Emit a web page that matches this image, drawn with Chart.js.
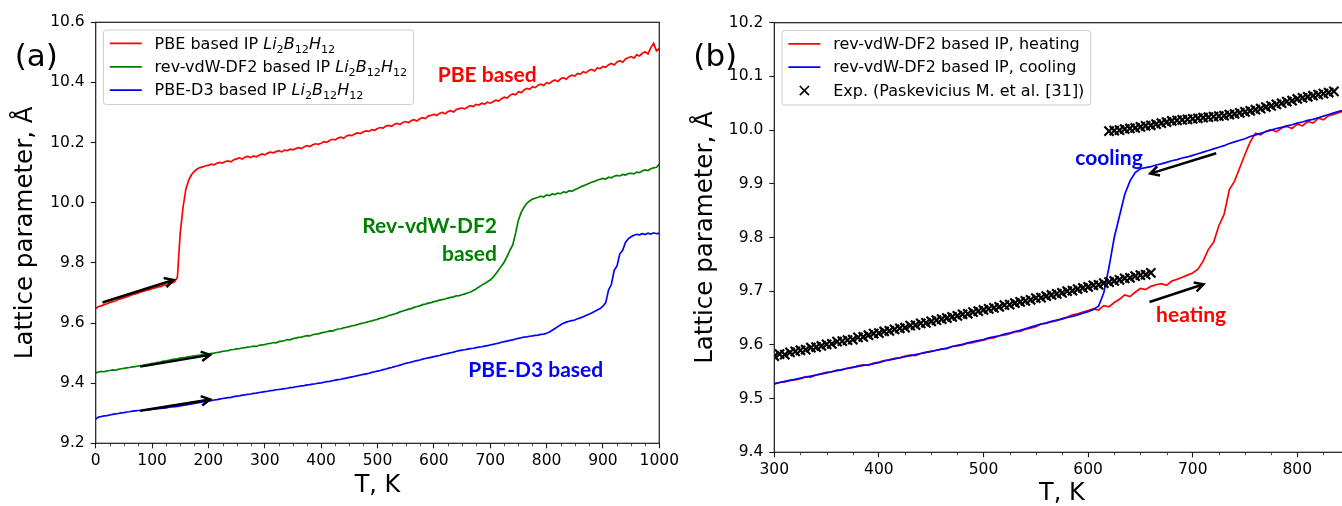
<!DOCTYPE html>
<html>
<head>
<meta charset="utf-8">
<title>Lattice parameter vs temperature</title>
<script src="https://cdn.jsdelivr.net/npm/chart.js@4.4.1/dist/chart.umd.min.js"></script>
<style>
  html, body { margin: 0; padding: 0; background: #fff; }
  #wrap { position: relative; width: 1342px; height: 506px; overflow: hidden; background: #fff; }
  #chartA { position: absolute; left: 0; top: 0; }
  #chartB { position: absolute; left: 680px; top: 0; }
</style>
</head>
<body>
<div id="wrap">
  <canvas id="chartA" width="682" height="506"></canvas>
  <canvas id="chartB" width="700" height="506"></canvas>
</div>
<script>
// ---- (a) heating runs for the three potentials, T in K, lattice parameter in Å
const tempA = [
  0,5,10,15,20,25,30,35,40,45,50,55,60,65,70,75,80,85,90,95,
  100,105,110,115,120,125,130,135,140,145,150,155,160,165,170,175,180,185,190,195,
  200,205,210,215,220,225,230,235,240,245,250,255,260,265,270,275,280,285,290,295,
  300,305,310,315,320,325,330,335,340,345,350,355,360,365,370,375,380,385,390,395,
  400,405,410,415,420,425,430,435,440,445,450,455,460,465,470,475,480,485,490,495,
  500,505,510,515,520,525,530,535,540,545,550,555,560,565,570,575,580,585,590,595,
  600,605,610,615,620,625,630,635,640,645,650,655,660,665,670,675,680,685,690,695,
  700,705,710,715,720,725,730,735,740,745,750,755,760,765,770,775,780,785,790,795,
  800,805,810,815,820,825,830,835,840,845,850,855,860,865,870,875,880,885,890,895,
  900,905,910,915,920,925,930,935,940,945,950,955,960,965,970,975,980,985,990,995,
  1000
];
const latticePBE = [
  9.648,9.655,9.657,9.661,9.664,9.668,9.671,9.673,9.678,9.681,9.684,9.687,9.691,9.694,9.697,9.699,9.703,9.706,9.709,9.711,
  9.714,9.717,9.720,9.721,9.725,9.727,9.731,9.733,9.737,9.752,9.900,9.985,10.045,10.075,10.093,10.104,10.112,10.117,10.119,10.123,
  10.124,10.128,10.126,10.131,10.134,10.132,10.137,10.139,10.136,10.143,10.146,10.149,10.145,10.152,10.154,10.150,10.156,10.153,10.158,10.162,
  10.159,10.165,10.168,10.166,10.170,10.173,10.169,10.175,10.173,10.178,10.176,10.180,10.183,10.180,10.186,10.190,10.187,10.193,10.196,10.194,
  10.198,10.203,10.201,10.207,10.211,10.209,10.215,10.218,10.214,10.222,10.225,10.223,10.229,10.232,10.230,10.236,10.239,10.237,10.243,10.241,
  10.247,10.250,10.248,10.255,10.257,10.254,10.261,10.264,10.260,10.267,10.270,10.266,10.273,10.276,10.272,10.279,10.283,10.280,10.288,10.291,
  10.294,10.290,10.297,10.300,10.296,10.303,10.306,10.302,10.310,10.313,10.315,10.312,10.318,10.323,10.320,10.327,10.325,10.331,10.328,10.334,
  10.331,10.336,10.341,10.338,10.346,10.351,10.348,10.357,10.362,10.359,10.369,10.366,10.375,10.380,10.377,10.386,10.383,10.391,10.394,10.390,
  10.399,10.396,10.404,10.408,10.403,10.412,10.416,10.411,10.420,10.424,10.421,10.430,10.428,10.436,10.432,10.440,10.443,10.438,10.448,10.446,
  10.453,10.450,10.459,10.463,10.458,10.468,10.472,10.467,10.478,10.482,10.486,10.481,10.492,10.488,10.497,10.502,10.495,10.516,10.530,10.505,
  10.512
];
const latticeRevVdW = [
  9.434,9.437,9.439,9.438,9.441,9.442,9.444,9.443,9.446,9.448,9.449,9.451,9.452,9.454,9.455,9.457,9.458,9.460,9.462,9.463,
  9.466,9.467,9.469,9.470,9.473,9.474,9.476,9.478,9.480,9.481,9.483,9.485,9.486,9.488,9.489,9.491,9.492,9.493,9.495,9.494,
  9.497,9.499,9.500,9.502,9.503,9.506,9.507,9.508,9.511,9.512,9.514,9.515,9.517,9.518,9.520,9.521,9.523,9.522,9.526,9.527,
  9.528,9.531,9.532,9.535,9.534,9.538,9.540,9.541,9.545,9.544,9.548,9.550,9.552,9.553,9.556,9.558,9.557,9.561,9.563,9.564,
  9.567,9.569,9.571,9.574,9.573,9.577,9.580,9.581,9.584,9.586,9.588,9.591,9.592,9.595,9.598,9.600,9.602,9.605,9.607,9.610,
  9.612,9.616,9.618,9.621,9.625,9.627,9.630,9.633,9.637,9.640,9.643,9.646,9.648,9.652,9.655,9.657,9.661,9.663,9.666,9.668,
  9.671,9.673,9.676,9.678,9.680,9.683,9.685,9.687,9.690,9.691,9.694,9.697,9.700,9.703,9.708,9.713,9.720,9.726,9.731,9.737,
  9.743,9.752,9.764,9.776,9.790,9.803,9.822,9.842,9.860,9.898,9.942,9.968,9.985,9.998,10.006,10.012,10.015,10.018,10.022,10.019,
  10.026,10.024,10.029,10.027,10.032,10.030,10.036,10.034,10.040,10.038,10.043,10.047,10.052,10.056,10.060,10.064,10.068,10.071,10.075,10.078,
  10.081,10.079,10.085,10.083,10.088,10.091,10.089,10.094,10.092,10.097,10.098,10.096,10.102,10.100,10.106,10.109,10.107,10.113,10.116,10.118,
  10.128
];
const latticePBED3 = [
  9.281,9.287,9.289,9.291,9.292,9.294,9.296,9.298,9.299,9.301,9.302,9.304,9.305,9.307,9.308,9.309,9.309,9.310,9.311,9.312,
  9.313,9.314,9.315,9.316,9.317,9.318,9.320,9.321,9.322,9.323,9.324,9.326,9.328,9.329,9.331,9.333,9.334,9.336,9.338,9.339,
  9.341,9.342,9.344,9.345,9.347,9.349,9.350,9.352,9.353,9.355,9.357,9.358,9.360,9.361,9.363,9.364,9.366,9.367,9.369,9.370,
  9.372,9.373,9.375,9.376,9.378,9.379,9.380,9.382,9.383,9.385,9.386,9.388,9.389,9.391,9.392,9.394,9.395,9.397,9.398,9.400,
  9.401,9.403,9.405,9.406,9.408,9.410,9.412,9.413,9.415,9.417,9.419,9.421,9.423,9.425,9.427,9.429,9.431,9.433,9.436,9.438,
  9.440,9.442,9.445,9.447,9.450,9.452,9.455,9.457,9.460,9.463,9.466,9.468,9.470,9.473,9.475,9.477,9.480,9.482,9.484,9.486,
  9.488,9.490,9.492,9.495,9.497,9.499,9.501,9.503,9.506,9.508,9.510,9.511,9.513,9.515,9.516,9.518,9.520,9.521,9.523,9.525,
  9.527,9.529,9.531,9.533,9.536,9.538,9.540,9.542,9.544,9.547,9.549,9.551,9.553,9.554,9.556,9.557,9.559,9.560,9.562,9.563,
  9.566,9.570,9.576,9.582,9.588,9.594,9.599,9.603,9.606,9.608,9.610,9.614,9.617,9.621,9.625,9.629,9.633,9.638,9.643,9.648,
  9.656,9.668,9.710,9.728,9.775,9.790,9.830,9.842,9.868,9.880,9.887,9.892,9.895,9.893,9.897,9.894,9.899,9.896,9.900,9.897,
  9.898
];

// ---- (b) rev-vdW-DF2 heating / cooling and experiment
const tempB = [
  300,305,310,315,320,325,330,335,340,345,350,355,360,365,370,375,380,385,390,395,
  400,405,410,415,420,425,430,435,440,445,450,455,460,465,470,475,480,485,490,495,
  500,505,510,515,520,525,530,535,540,545,550,555,560,565,570,575,580,585,590,595,
  600,605,610,615,620,625,630,635,640,645,650,655,660,665,670,675,680,685,690,695,
  700,705,710,715,720,725,730,735,740,745,750,755,760,765,770,775,780,785,790,795,
  800,805,810,815,820,825,830,835,840,845,850
];
const latticeHeating = [
  9.527,9.530,9.531,9.534,9.535,9.537,9.541,9.540,9.544,9.546,9.549,9.550,9.553,9.554,9.557,9.558,9.561,9.563,9.562,9.566,
  9.568,9.571,9.572,9.575,9.576,9.579,9.581,9.580,9.584,9.586,9.588,9.590,9.592,9.593,9.597,9.598,9.600,9.603,9.604,9.607,
  9.609,9.612,9.613,9.617,9.618,9.621,9.624,9.625,9.629,9.631,9.634,9.639,9.640,9.643,9.645,9.649,9.652,9.656,9.658,9.661,
  9.664,9.667,9.665,9.673,9.671,9.679,9.685,9.693,9.690,9.698,9.705,9.703,9.709,9.712,9.714,9.711,9.719,9.722,9.726,9.730,
  9.734,9.741,9.756,9.778,9.791,9.822,9.843,9.889,9.905,9.930,9.955,9.978,9.994,9.991,9.998,10.001,9.997,10.004,10.007,10.003,
  10.011,10.008,10.016,10.013,10.022,10.019,10.027,10.029,10.033,10.036,10.039
];
const latticeCooling = [
  9.528,9.530,9.532,9.534,9.536,9.538,9.540,9.542,9.544,9.546,9.548,9.550,9.552,9.554,9.556,9.558,9.560,9.562,9.563,9.565,
  9.567,9.570,9.572,9.574,9.576,9.578,9.580,9.582,9.584,9.586,9.588,9.590,9.592,9.594,9.597,9.599,9.601,9.604,9.606,9.608,
  9.610,9.613,9.615,9.617,9.620,9.622,9.625,9.627,9.630,9.633,9.636,9.639,9.641,9.644,9.646,9.648,9.651,9.653,9.656,9.659,
  9.662,9.666,9.672,9.697,9.745,9.800,9.840,9.880,9.905,9.921,9.928,9.930,9.932,9.935,9.937,9.940,9.943,9.945,9.948,9.950,
  9.953,9.956,9.959,9.962,9.965,9.968,9.971,9.975,9.978,9.981,9.984,9.988,9.991,9.994,9.997,10.000,10.003,10.005,10.008,10.010,
  10.013,10.015,10.018,10.020,10.023,10.026,10.029,10.032,10.035,10.037,10.040
];
const tempExpLow = [
  300,305,310,315,320,325,330,335,340,345,350,355,360,365,370,375,380,385,390,395,
  400,405,410,415,420,425,430,435,440,445,450,455,460,465,470,475,480,485,490,495,
  500,505,510,515,520,525,530,535,540,545,550,555,560,565,570,575,580,585,590,595,
  600,605,610,615,620,625,630,635,640,645,650,655,660
];
const latticeExpLow = [
  9.579,9.583,9.582,9.586,9.588,9.590,9.591,9.595,9.596,9.598,9.601,9.602,9.606,9.607,9.609,9.610,9.614,9.615,9.618,9.621,
  9.622,9.625,9.626,9.629,9.631,9.632,9.636,9.637,9.640,9.641,9.644,9.646,9.648,9.650,9.652,9.654,9.657,9.658,9.661,9.663,
  9.665,9.667,9.669,9.671,9.674,9.675,9.678,9.680,9.682,9.684,9.687,9.688,9.691,9.693,9.695,9.697,9.700,9.701,9.704,9.706,
  9.708,9.711,9.712,9.715,9.717,9.719,9.721,9.724,9.725,9.728,9.730,9.731,9.734
];
const tempExpHigh = [
  620,625,630,635,640,645,650,655,660,665,670,675,680,685,690,695,700,705,710,715,
  720,725,730,735,740,745,750,755,760,765,770,775,780,785,790,795,800,805,810,815,
  820,825,830,835
];
const latticeExpHigh = [
  9.998,9.999,10.000,10.002,10.003,10.004,10.006,10.008,10.009,10.011,10.013,10.015,10.017,10.018,10.019,10.020,10.021,10.022,10.023,10.024,
  10.025,10.026,10.027,10.029,10.030,10.032,10.034,10.036,10.038,10.040,10.043,10.045,10.048,10.050,10.053,10.055,10.058,10.060,10.062,10.064,
  10.066,10.068,10.070,10.072
];

const RED = '#ff0000', GREEN = '#008000', BLUE = '#0000ff', INK = '#1a1a1a';
const TICK_FONT = 15.5;
const LEGEND_FONT = 16;

Chart.defaults.font.family = "'DejaVu Sans', sans-serif";
Chart.defaults.color = '#000';

const pairs = (xs, ys) => xs.map((x, i) => ({ x, y: ys[i] }));

// box around the axes plus short minor ticks on x, matplotlib style
const frame = {
  id: 'frame',
  afterDraw(chart, args, opts) {
    const { ctx, chartArea: a } = chart;
    const xs = chart.scales.x;
    ctx.save();
    ctx.strokeStyle = INK;
    ctx.lineWidth = 0.8;
    for (let v = xs.min; v <= xs.max; v += opts.minor) {
      if ((v - xs.min) % opts.major === 0) continue;
      const px = Math.round(xs.getPixelForValue(v)) + 0.5;
      ctx.beginPath();
      ctx.moveTo(px, a.bottom);
      ctx.lineTo(px, a.bottom + 3);
      ctx.stroke();
    }
    ctx.lineWidth = 1.2;
    ctx.strokeRect(a.left, a.top, a.right - a.left, a.bottom - a.top);
    ctx.font = `${opts.tagSize}px 'DejaVu Sans'`;
    ctx.fillStyle = '#000';
    ctx.textBaseline = 'alphabetic';
    ctx.fillText(opts.tag, a.left - opts.tagDx, opts.tagY);
    ctx.restore();
  }
};

// split "text $Li_2B_{12}H_{12}$" into plain / italic / subscript runs
function richRuns(label) {
  const runs = [];
  label.split('$').forEach((part, i) => {
    if (i % 2 === 0) { if (part) runs.push({ text: part, kind: 'plain' }); return; }
    const re = /_\{([^}]*)\}|_(.)|([^_]+)/g;
    let m;
    while ((m = re.exec(part))) {
      if (m[1] !== undefined) runs.push({ text: m[1], kind: 'sub' });
      else if (m[2] !== undefined) runs.push({ text: m[2], kind: 'sub' });
      else runs.push({ text: m[3], kind: 'math' });
    }
  });
  return runs;
}

function runFont(kind, fs) {
  if (kind === 'math') return `italic ${fs}px 'DejaVu Sans'`;
  if (kind === 'sub') return `${(fs * 0.7).toFixed(2)}px 'DejaVu Sans'`;
  return `${fs}px 'DejaVu Sans'`;
}

function drawRich(ctx, label, x, y, fs) {
  let cx = x;
  for (const r of richRuns(label)) {
    ctx.font = runFont(r.kind, fs);
    ctx.fillText(r.text, cx, r.kind === 'sub' ? y + fs * 0.24 : y);
    cx += ctx.measureText(r.text).width;
  }
  return cx - x;
}

function richWidth(ctx, label, fs) {
  let w = 0;
  for (const r of richRuns(label)) {
    ctx.font = runFont(r.kind, fs);
    w += ctx.measureText(r.text).width;
  }
  return w;
}

// upper-left framed legend drawn from the datasets
const boxLegend = {
  id: 'boxLegend',
  afterDraw(chart) {
    const { ctx, chartArea: a } = chart;
    const fs = LEGEND_FONT;
    const sets = chart.data.datasets;
    const x0 = a.left + 7.7, y0 = a.top + 7.7;
    const pad = 0.4 * fs, handle = 2 * fs, gap = 0.8 * fs, step = 23.4;
    ctx.save();
    const maxW = Math.max(...sets.map(d => richWidth(ctx, d.label, fs)));
    const w = pad + handle + gap + maxW + pad;
    const h = 13.4 + (sets.length - 1) * step + 14.4;
    ctx.beginPath();
    ctx.roundRect(x0, y0, w, h, 3);
    ctx.fillStyle = 'rgba(255,255,255,0.8)';
    ctx.fill();
    ctx.strokeStyle = '#cccccc';
    ctx.lineWidth = 1;
    ctx.stroke();
    sets.forEach((d, i) => {
      const y = y0 + 13.4 + i * step;
      const hx = x0 + pad;
      ctx.strokeStyle = d.borderColor;
      if (d.showLine === false) {
        Chart.helpers.drawPoint(ctx, {
          pointStyle: d.pointStyle, radius: d.pointRadius, borderWidth: d.pointBorderWidth
        }, hx + handle / 2, y);
      } else {
        ctx.lineWidth = d.borderWidth;
        ctx.beginPath();
        ctx.moveTo(hx, y);
        ctx.lineTo(hx + handle, y);
        ctx.stroke();
      }
      ctx.fillStyle = '#000';
      ctx.textBaseline = 'alphabetic';
      drawRich(ctx, d.label, hx + handle + gap, y + 0.33 * fs, fs);
    });
    ctx.restore();
  }
};

// black arrows and coloured labels placed in data units
const notes = {
  id: 'notes',
  afterDraw(chart, args, opts) {
    const { ctx } = chart;
    const xs = chart.scales.x, ys = chart.scales.y;
    ctx.save();
    ctx.strokeStyle = '#000';
    ctx.lineWidth = 2.5;
    ctx.lineJoin = 'miter';
    for (const [t0, v0, t1, v1] of opts.arrows) {
      const x0 = xs.getPixelForValue(t0), y0 = ys.getPixelForValue(v0);
      const x1 = xs.getPixelForValue(t1), y1 = ys.getPixelForValue(v1);
      const ang = Math.atan2(y1 - y0, x1 - x0), L = 10, W = 0.5;
      ctx.beginPath();
      ctx.moveTo(x0, y0);
      ctx.lineTo(x1, y1);
      ctx.moveTo(x1 - L * Math.cos(ang - W), y1 - L * Math.sin(ang - W));
      ctx.lineTo(x1, y1);
      ctx.lineTo(x1 - L * Math.cos(ang + W), y1 - L * Math.sin(ang + W));
      ctx.stroke();
    }
    ctx.font = "bold 21px Lato, 'DejaVu Sans', sans-serif";
    ctx.textBaseline = 'alphabetic';
    for (const n of opts.labels) {
      ctx.fillStyle = n.color;
      ctx.textAlign = n.align;
      ctx.fillText(n.text, xs.getPixelForValue(n.t), ys.getPixelForValue(n.v));
    }
    ctx.restore();
  }
};

function axes(xMin, xMax, yMin, yMax, yStep, leftW, bottomH, titlePadB) {
  const grid = { display: true, drawOnChartArea: false, drawTicks: true, tickLength: 5, tickWidth: 1.1, tickColor: INK };
  return {
    x: {
      type: 'linear', min: xMin, max: xMax,
      grid, border: { display: false },
      ticks: {
        stepSize: 100, includeBounds: false, padding: 3, font: { size: TICK_FONT },
        maxRotation: 0, autoSkip: false, callback: v => String(v)
      },
      title: { display: true, text: 'T, K', font: { size: 24, lineHeight: 1 }, padding: { top: 0, bottom: titlePadB } },
      afterFit(s) { s.height = bottomH; }
    },
    y: {
      min: yMin, max: yMax,
      grid, border: { display: false },
      ticks: { stepSize: yStep, padding: 6, font: { size: TICK_FONT }, callback: v => v.toFixed(1) },
      title: { display: true, text: 'Lattice parameter, Å', font: { size: 24.5, lineHeight: 1 }, padding: { top: 13, bottom: 0 } },
      afterFit(s) { s.width = leftW; }
    }
  };
}

const common = {
  responsive: false,
  animation: false,
  devicePixelRatio: 1,
  elements: { point: { radius: 0 }, line: { borderWidth: 1.7, tension: 0 } },
};

new Chart(document.getElementById('chartA'), {
  type: 'line',
  data: {
    datasets: [
      { label: 'PBE based IP $Li_2B_{12}H_{12}$', data: pairs(tempA, latticePBE), borderColor: RED, borderWidth: 1.7 },
      { label: 'rev-vdW-DF2 based IP $Li_2B_{12}H_{12}$', data: pairs(tempA, latticeRevVdW), borderColor: GREEN, borderWidth: 1.7 },
      { label: 'PBE-D3 based IP $Li_2B_{12}H_{12}$', data: pairs(tempA, latticePBED3), borderColor: BLUE, borderWidth: 1.7 }
    ]
  },
  options: {
    ...common,
    layout: { padding: { left: 0, right: 20.3, top: 22.3, bottom: 0 } },
    scales: axes(0, 1000, 9.2, 10.6, 0.2, 95.7, 62.7, 8),
    plugins: {
      legend: { display: false },
      tooltip: { enabled: false },
      frame: { minor: 25, major: 100, tag: '(a)', tagSize: 31, tagDx: 81, tagY: 66 },
      notes: {
        arrows: [
          [12, 9.668, 138, 9.743],
          [79, 9.455, 203, 9.494],
          [79, 9.308, 203, 9.346]
        ],
        labels: [
          { text: 'PBE based', t: 607, v: 10.403, color: RED, align: 'left' },
          { text: 'Rev-vdW-DF2', t: 712, v: 9.898, color: GREEN, align: 'right' },
          { text: 'based', t: 712, v: 9.807, color: GREEN, align: 'right' },
          { text: 'PBE-D3 based', t: 661, v: 9.4215, color: BLUE, align: 'left' }
        ]
      }
    }
  },
  plugins: [frame, boxLegend, notes]
});

new Chart(document.getElementById('chartB'), {
  type: 'line',
  data: {
    datasets: [
      { label: 'rev-vdW-DF2 based IP, heating', data: pairs(tempB, latticeHeating), borderColor: RED, borderWidth: 1.7, order: 3 },
      { label: 'rev-vdW-DF2 based IP, cooling', data: pairs(tempB, latticeCooling), borderColor: BLUE, borderWidth: 1.7, order: 2 },
      {
        label: 'Exp. (Paskevicius M. et al. [31])',
        data: pairs(tempExpLow, latticeExpLow).concat(pairs(tempExpHigh, latticeExpHigh)),
        showLine: false, borderColor: '#000', order: 1,
        pointStyle: 'crossRot', pointRadius: 6.5, pointBorderWidth: 2.2, pointBorderColor: '#000'
      }
    ]
  },
  options: {
    ...common,
    layout: { padding: { left: 0, right: 30.4, top: 22.7, bottom: 0 } },
    scales: axes(300, 850, 9.4, 10.2, 0.1, 94.3, 53.7, 0),
    plugins: {
      legend: { display: false },
      tooltip: { enabled: false },
      frame: { minor: 25, major: 100, tag: '(b)', tagSize: 31, tagDx: 81, tagY: 66 },
      notes: {
        arrows: [
          [722.5, 9.957, 659.4, 9.919],
          [658.7, 9.680, 710.3, 9.713]
        ],
        labels: [
          { text: 'cooling', t: 587.7, v: 9.935, color: BLUE, align: 'left' },
          { text: 'heating', t: 665, v: 9.643, color: RED, align: 'left' }
        ]
      }
    }
  },
  plugins: [frame, boxLegend, notes]
});
</script>
</body>
</html>
